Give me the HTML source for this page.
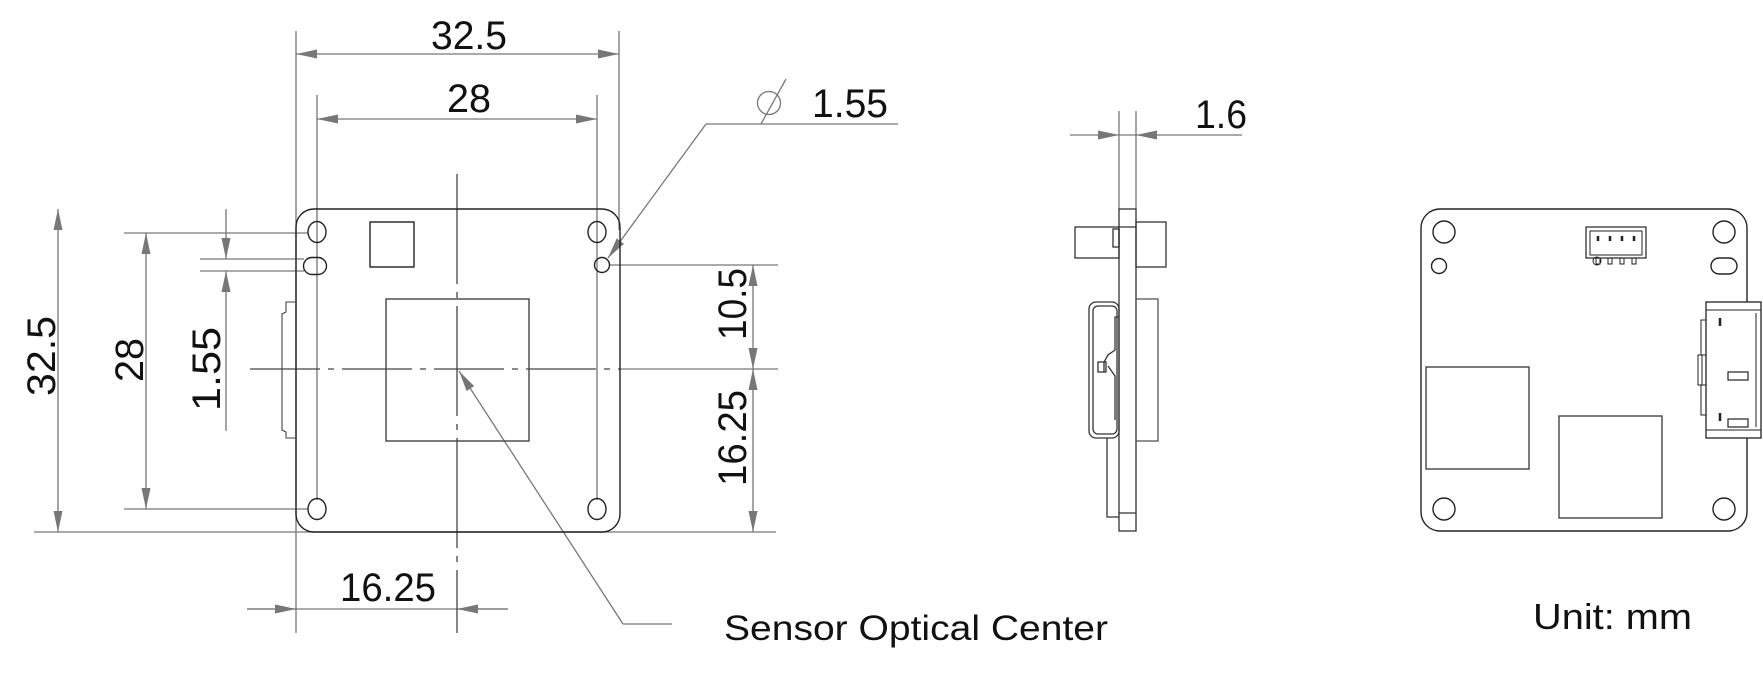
<!DOCTYPE html>
<html><head><meta charset="utf-8"><style>
html,body{margin:0;padding:0;background:#fff;}
svg{display:block;}
text{font-family:"Liberation Sans",sans-serif;fill:#111;}
</style></head><body>
<svg width="1763" height="675" viewBox="0 0 1763 675" xmlns="http://www.w3.org/2000/svg">
<defs>
<marker id="a" markerUnits="userSpaceOnUse" markerWidth="22" markerHeight="10" refX="21" refY="4.5" orient="auto-start-reverse">
<path d="M0,0 L21,4.5 L0,9 z" fill="#777"/>
</marker>
</defs>

<!-- ===== FRONT VIEW ===== -->
<g stroke="#777" stroke-width="1.3" fill="none">
  <!-- extension lines -->
  <line x1="296" y1="31" x2="296" y2="633"/>
  <line x1="619" y1="31" x2="619" y2="230"/>
  <line x1="317" y1="95" x2="317" y2="500"/>
  <line x1="597" y1="95" x2="597" y2="500"/>
  <line x1="34" y1="532" x2="776" y2="532"/>
  <line x1="124" y1="233" x2="308" y2="233"/>
  <line x1="124" y1="509" x2="308" y2="509"/>
  <line x1="200" y1="259" x2="304" y2="259"/>
  <line x1="200" y1="271" x2="304" y2="271"/>
  <line x1="610" y1="265" x2="778" y2="265"/>
  <line x1="619" y1="369" x2="778" y2="369"/>
  <!-- dimension lines -->
  <line x1="296" y1="54" x2="619" y2="54" marker-start="url(#a)" marker-end="url(#a)"/>
  <line x1="317" y1="119" x2="597" y2="119" marker-start="url(#a)" marker-end="url(#a)"/>
  <line x1="58" y1="209" x2="58" y2="532" marker-start="url(#a)" marker-end="url(#a)"/>
  <line x1="146" y1="233" x2="146" y2="509" marker-start="url(#a)" marker-end="url(#a)"/>
  <line x1="226" y1="209" x2="226" y2="259" marker-end="url(#a)"/>
  <line x1="226" y1="431" x2="226" y2="271" marker-end="url(#a)"/>
  <line x1="753" y1="265" x2="753" y2="369" marker-start="url(#a)" marker-end="url(#a)"/>
  <line x1="753" y1="369" x2="753" y2="532" marker-start="url(#a)" marker-end="url(#a)"/>
  <line x1="247" y1="609" x2="508" y2="609"/>
  <line x1="247" y1="609" x2="296" y2="609" marker-end="url(#a)"/>
  <line x1="508" y1="609" x2="457" y2="609" marker-end="url(#a)"/>
  <!-- leaders -->
  <line x1="623" y1="624" x2="459" y2="371" marker-end="url(#a)"/>
  <line x1="623" y1="624" x2="672" y2="624"/>
  <line x1="706" y1="124" x2="608" y2="258" marker-end="url(#a)"/>
  <line x1="706" y1="124" x2="898" y2="124"/>
  <!-- diameter symbol -->
  <circle cx="769" cy="103" r="11.5"/>
  <line x1="761" y1="124" x2="786" y2="79"/>
  <!-- centerlines -->
  <line x1="457" y1="174" x2="457" y2="633" stroke="#444" stroke-dasharray="110,8,6,8"/>
  <line x1="250" y1="369" x2="619" y2="369" stroke="#444" stroke-dasharray="70,8,6,8"/>
</g>
<!-- board front -->
<g stroke="#222" stroke-width="1.4" fill="none">
  <rect x="296" y="209" width="324" height="323" rx="18"/>
  <ellipse cx="317" cy="232" rx="9" ry="10.5"/>
  <ellipse cx="597" cy="232" rx="9" ry="10.5"/>
  <ellipse cx="317" cy="509" rx="9" ry="10.5"/>
  <ellipse cx="597" cy="509" rx="9" ry="10.5"/>
  <rect x="303.5" y="257.5" width="23" height="17" rx="8.5"/>
  <circle cx="602" cy="265" r="7.5"/>
  <rect x="370" y="222" width="44" height="45"/>
  <rect x="386" y="299" width="143" height="142" stroke="#444"/>
  <!-- edge connector on left -->
  <path d="M296,302 L286,302 L286,312 L282,314 L282,430 L286,432 L286,438 L296,438" stroke="#444" stroke-width="1.1"/>
</g>
<g font-size="40">
  <text x="469" y="49" text-anchor="middle" textLength="76" lengthAdjust="spacingAndGlyphs">32.5</text>
  <text x="469" y="112" text-anchor="middle" textLength="44" lengthAdjust="spacingAndGlyphs">28</text>
  <text x="388" y="601" text-anchor="middle" textLength="96" lengthAdjust="spacingAndGlyphs">16.25</text>
  <text x="812" y="117" textLength="76" lengthAdjust="spacingAndGlyphs">1.55</text>
  <text transform="translate(55,356) rotate(-90)" text-anchor="middle" textLength="80" lengthAdjust="spacingAndGlyphs">32.5</text>
  <text transform="translate(143,360) rotate(-90)" text-anchor="middle" textLength="44" lengthAdjust="spacingAndGlyphs">28</text>
  <text transform="translate(220,369) rotate(-90)" text-anchor="middle" textLength="84" lengthAdjust="spacingAndGlyphs">1.55</text>
  <text transform="translate(746,304) rotate(-90)" text-anchor="middle" textLength="72" lengthAdjust="spacingAndGlyphs">10.5</text>
  <text transform="translate(746,438) rotate(-90)" text-anchor="middle" textLength="96" lengthAdjust="spacingAndGlyphs">16.25</text>
  <text x="1195" y="128" textLength="52" lengthAdjust="spacingAndGlyphs">1.6</text>
</g>
<text x="724" y="640" font-size="35" textLength="384" lengthAdjust="spacingAndGlyphs">Sensor Optical Center</text>
<text x="1533" y="629" font-size="36" textLength="159" lengthAdjust="spacingAndGlyphs">Unit: mm</text>

<!-- ===== SIDE VIEW ===== -->
<g stroke="#777" stroke-width="1.3" fill="none">
  <line x1="1119" y1="111" x2="1119" y2="209"/>
  <line x1="1136" y1="111" x2="1136" y2="209"/>
  <line x1="1070" y1="135" x2="1119" y2="135" marker-end="url(#a)"/>
  <line x1="1242" y1="135" x2="1136" y2="135" marker-end="url(#a)"/>
  <line x1="1119" y1="135" x2="1136" y2="135"/>
</g>
<g stroke="#333" stroke-width="1.3" fill="none">
  <rect x="1119" y="209" width="17" height="322"/>
  <line x1="1119" y1="227" x2="1136" y2="227"/>
  <line x1="1119" y1="513" x2="1136" y2="513"/>
  <rect x="1136" y="222" width="30" height="45"/>
  <rect x="1075" y="227" width="44" height="31"/>
  <rect x="1113" y="229" width="6" height="18"/>
  <rect x="1136" y="299" width="22" height="142" stroke="#555"/>
  <rect x="1089" y="302" width="30" height="136" rx="7"/>
  <rect x="1093" y="306" width="24" height="128" rx="5"/>
  <path d="M1119,317 L1115,317 L1115,350 L1108,355 L1104,362 L1104,372 M1108,366 L1115,376 L1115,420"/>
  <rect x="1098" y="362" width="8" height="10"/>
  <path d="M1107,438 L1107,517 L1119,517"/>
</g>

<!-- ===== BACK VIEW ===== -->
<g stroke="#222" stroke-width="1.4" fill="none">
  <rect x="1421" y="209" width="326" height="322" rx="19"/>
  <circle cx="1444" cy="232" r="11"/>
  <circle cx="1724" cy="232" r="11"/>
  <circle cx="1444" cy="509" r="11"/>
  <circle cx="1724" cy="509" r="11"/>
  <circle cx="1439" cy="266" r="7.5"/>
  <rect x="1711" y="258" width="26" height="16" rx="8"/>
  <rect x="1426" y="367" width="103" height="102" stroke="#444"/>
  <rect x="1559" y="416" width="103" height="102" stroke="#444"/>
  <!-- top connector -->
  <rect x="1586" y="227" width="60" height="31" stroke-width="1.2"/>
  <rect x="1590" y="231" width="52" height="24" stroke-width="1"/>
  <g stroke-width="2.5">
    <line x1="1598" y1="236" x2="1598" y2="241"/><line x1="1610" y1="236" x2="1610" y2="241"/>
    <line x1="1622" y1="236" x2="1622" y2="241"/><line x1="1634" y1="236" x2="1634" y2="241"/>
  </g>
  <g stroke-width="1">
    <rect x="1596" y="258" width="4" height="6"/><rect x="1608" y="258" width="4" height="6"/>
    <rect x="1620" y="258" width="4" height="6"/><rect x="1632" y="258" width="4" height="6"/>
    <circle cx="1597" cy="261" r="4"/>
  </g>
  <!-- right connector -->
  <rect x="1706" y="302" width="55" height="136" fill="#fff" stroke-width="1.3"/>
  <line x1="1706" y1="310" x2="1761" y2="310" stroke-width="1"/>
  <line x1="1706" y1="430" x2="1761" y2="430" stroke-width="1"/>
  <line x1="1756" y1="313" x2="1756" y2="427" stroke-width="1"/>
  <path d="M1706,320 L1701,320 L1701,355 L1706,355 M1706,385 L1701,385 L1701,415 L1706,415 M1702,355 L1702,385 L1698,385 L1698,355 z" stroke-width="1"/>
  <rect x="1728" y="372" width="20" height="8" stroke-width="1.2"/>
  <rect x="1728" y="419" width="20" height="8" stroke-width="1.2"/>
  <line x1="1720" y1="318" x2="1720" y2="326" stroke-width="2.5"/>
  <line x1="1720" y1="413" x2="1720" y2="421" stroke-width="2.5"/>
</g>
</svg>
</body></html>
